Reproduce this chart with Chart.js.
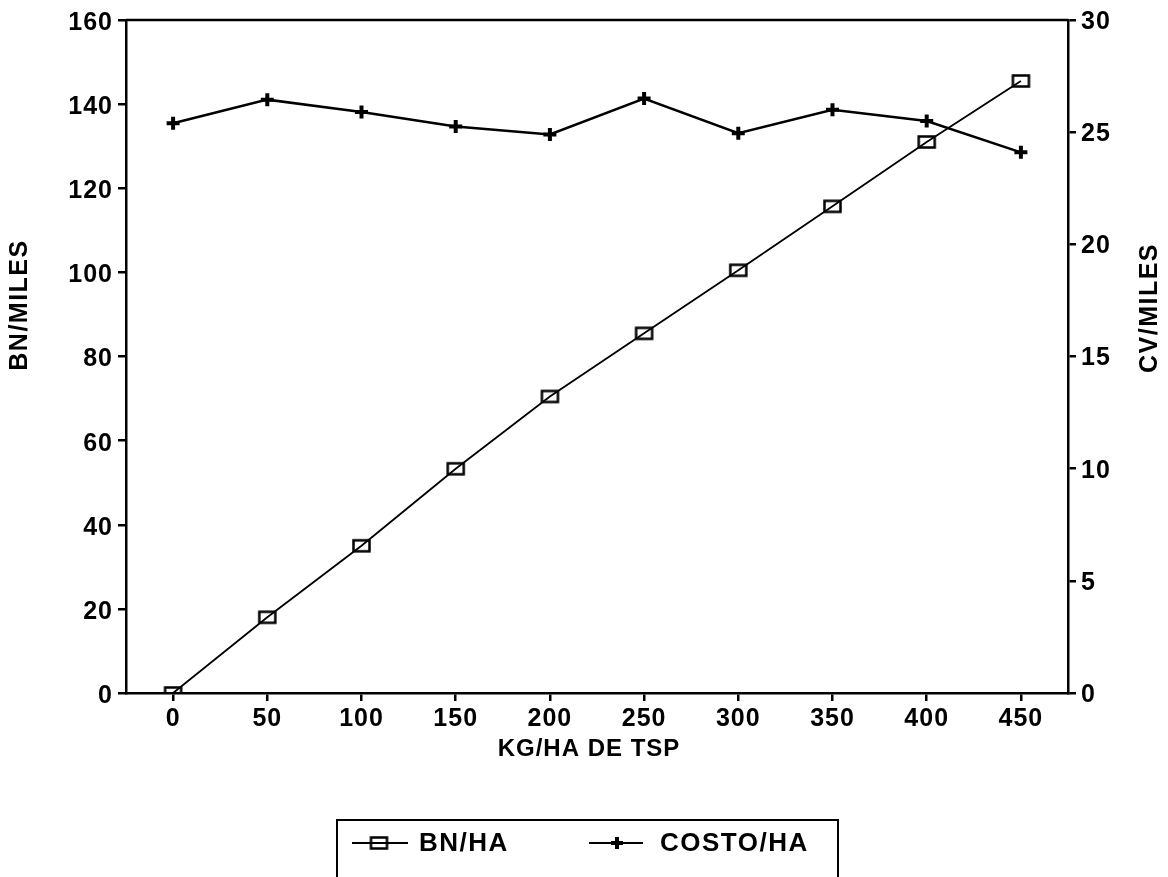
<!DOCTYPE html>
<html>
<head>
<meta charset="utf-8">
<script src="https://cdn.jsdelivr.net/npm/chart.js@4/dist/chart.umd.min.js"></script>
<style>
  html, body { margin: 0; padding: 0; background: #fff; }
  canvas { display: block; }
</style>
</head>
<body>
<canvas id="chart" width="1168" height="877"></canvas>
<script>
// Fertilizer dose (kg/ha of TSP)
const doses = ['0', '50', '100', '150', '200', '250', '300', '350', '400', '450'];
// Net benefit per hectare (left axis, thousands)
const bnPerHa = [0, 18, 35, 53.3, 70.5, 85.5, 100.5, 115.7, 131, 145.5];
// Cost per hectare (right axis, thousands)
const costoPerHa = [25.4, 26.45, 25.9, 25.25, 24.9, 26.5, 24.95, 26.0, 25.5, 24.1];

// Tick labels of both value axes
const bnTicks = [0, 20, 40, 60, 80, 100, 120, 140, 160];
const cvTicks = [0, 5, 10, 15, 20, 25, 30];

const seriesNames = ['BN/HA', 'COSTO/HA'];
const xTitle = 'KG/HA DE TSP';
const leftTitle = 'BN/MILES';
const rightTitle = 'CV/MILES';

const FAMILY = '"Liberation Sans", Arial, Helvetica, sans-serif';
const INK = '#000';
const SPACING = '1px';

// Open rectangle marker used for the BN/HA series
function rectMarker(w, h, lw) {
  const c = document.createElement('canvas');
  c.width = w + lw * 2; c.height = h + lw * 2;
  const g = c.getContext('2d');
  g.strokeStyle = INK; g.lineWidth = lw;
  g.strokeRect(lw, lw, w, h);
  return c;
}
const boxMarker = rectMarker(16, 11, 2.5);

// Slightly opened lettering
const spacingPlugin = {
  id: 'spacing',
  beforeUpdate(chart) { chart.ctx.letterSpacing = SPACING; },
  beforeDraw(chart) { chart.ctx.letterSpacing = SPACING; }
};

// Top frame line, axis titles and the boxed legend
const decorPlugin = {
  id: 'decor',
  afterDraw(chart) {
    const { ctx, chartArea } = chart;
    ctx.save();
    ctx.letterSpacing = SPACING;
    ctx.strokeStyle = INK;
    ctx.fillStyle = INK;
    ctx.lineWidth = 2.5;
    ctx.beginPath();
    ctx.moveTo(chartArea.left, chartArea.top);
    ctx.lineTo(chartArea.right, chartArea.top);
    ctx.stroke();

    ctx.font = 'bold 24px ' + FAMILY;
    ctx.textBaseline = 'middle';
    ctx.textAlign = 'center';
    ctx.fillText(xTitle, 589, 749);

    ctx.font = 'bold 25px ' + FAMILY;
    ctx.letterSpacing = '1.5px';
    ctx.save();
    ctx.translate(20, 305);
    ctx.rotate(-Math.PI / 2);
    ctx.fillText(leftTitle, 0, 0);
    ctx.restore();

    ctx.save();
    ctx.translate(1150, 308);
    ctx.rotate(-Math.PI / 2);
    ctx.fillText(rightTitle, 0, 0);
    ctx.restore();

    // legend frame (open at the bottom edge of the page)
    ctx.lineWidth = 2;
    ctx.strokeRect(337, 820, 501, 80);

    const ly = 843;
    ctx.lineWidth = 2;
    ctx.beginPath();
    ctx.moveTo(352, ly); ctx.lineTo(408, ly);
    ctx.moveTo(589, ly); ctx.lineTo(643, ly);
    ctx.stroke();
    ctx.drawImage(boxMarker, 379 - boxMarker.width / 2, ly - boxMarker.height / 2);
    ctx.lineWidth = 4;
    ctx.beginPath();
    ctx.moveTo(611, ly); ctx.lineTo(623, ly);
    ctx.moveTo(617, ly - 6); ctx.lineTo(617, ly + 6);
    ctx.stroke();

    ctx.font = 'bold 26px ' + FAMILY;
    ctx.textAlign = 'left';
    ctx.fillText(seriesNames[0], 419, ly + 1);
    ctx.fillText(seriesNames[1], 660, ly + 1);
    ctx.restore();
  }
};

const tickFont = { family: FAMILY, size: 25, weight: 'bold' };
const axisGrid = { drawOnChartArea: false, drawTicks: true, tickLength: 8, color: INK, lineWidth: 2.5 };
const axisBorder = { display: true, color: INK, width: 2.5 };

new Chart(document.getElementById('chart'), {
  type: 'line',
  data: {
    labels: doses,
    datasets: [
      {
        label: seriesNames[0],
        data: bnPerHa,
        yAxisID: 'y',
        borderColor: INK,
        borderWidth: 1.8,
        pointStyle: boxMarker,
        pointRadius: 8,
        tension: 0,
        fill: false
      },
      {
        label: seriesNames[1],
        data: costoPerHa,
        yAxisID: 'y1',
        borderColor: INK,
        backgroundColor: INK,
        borderWidth: 2.5,
        pointStyle: 'cross',
        pointRadius: 6.5,
        pointBorderWidth: 4,
        pointBorderColor: INK,
        tension: 0,
        fill: false
      }
    ]
  },
  options: {
    responsive: false,
    animation: false,
    devicePixelRatio: 1,
    layout: { padding: { top: 19, left: 0, right: 0, bottom: 0 } },
    plugins: {
      legend: { display: false },
      tooltip: { enabled: false },
      title: { display: false }
    },
    scales: {
      x: {
        type: 'category',
        offset: true,
        grid: axisGrid,
        border: axisBorder,
        ticks: { color: INK, font: tickFont, padding: 3, maxRotation: 0, autoSkip: false },
        afterFit(scale) { scale.height = 877 - 19 - 674; }
      },
      y: {
        position: 'left',
        min: bnTicks[0],
        max: bnTicks[bnTicks.length - 1],
        grid: axisGrid,
        border: axisBorder,
        ticks: { color: INK, font: tickFont, padding: 5, labelOffset: 3, stepSize: bnTicks[1] - bnTicks[0] },
        afterFit(scale) { scale.width = 126; }
      },
      y1: {
        position: 'right',
        min: cvTicks[0],
        max: cvTicks[cvTicks.length - 1],
        grid: axisGrid,
        border: axisBorder,
        ticks: { color: INK, font: tickFont, padding: 5, labelOffset: 2, stepSize: cvTicks[1] - cvTicks[0] },
        afterFit(scale) { scale.width = 100; }
      }
    }
  },
  plugins: [spacingPlugin, decorPlugin]
});
</script>
</body>
</html>
